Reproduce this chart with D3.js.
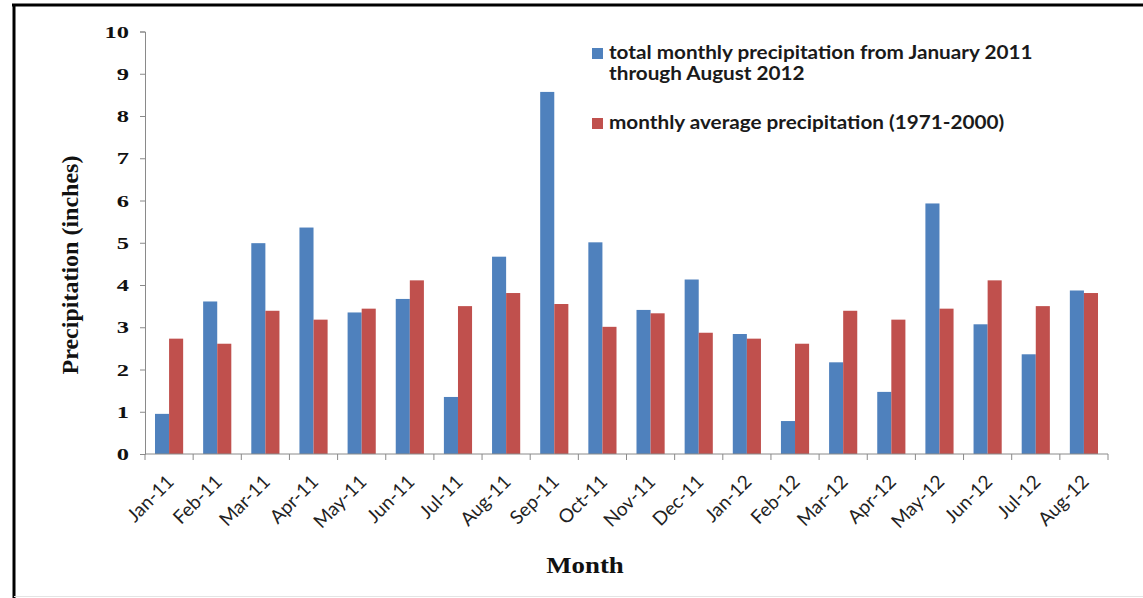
<!DOCTYPE html>
<html>
<head>
<meta charset="utf-8">
<script src="https://cdn.jsdelivr.net/npm/d3@7"></script>
<style>
  html, body { margin: 0; padding: 0; background: #fff; }
  svg { display: block; }
</style>
</head>
<body>
<svg id="chart" width="1143" height="598"></svg>
<script>
// Monthly precipitation, Jan 2011 – Aug 2012, against the 1971–2000 monthly normals
const months = ["Jan-11","Feb-11","Mar-11","Apr-11","May-11","Jun-11","Jul-11","Aug-11","Sep-11","Oct-11",
                "Nov-11","Dec-11","Jan-12","Feb-12","Mar-12","Apr-12","May-12","Jun-12","Jul-12","Aug-12"];
const totalPrecip = [0.95, 3.61, 4.99, 5.36, 3.35, 3.67, 1.35, 4.67, 8.57, 5.01,
                     3.41, 4.13, 2.84, 0.78, 2.17, 1.47, 5.93, 3.07, 2.36, 3.87];
const normalPrecip = [2.73, 2.61, 3.39, 3.18, 3.44, 4.11, 3.50, 3.81, 3.55, 3.01,
                      3.33, 2.87, 2.73, 2.61, 3.39, 3.18, 3.44, 4.11, 3.50, 3.81];
const yTicks = [0, 1, 2, 3, 4, 5, 6, 7, 8, 9, 10];
const seriesNames = ["total monthly precipitation from January 2011|through August 2012",
                     "monthly average precipitation (1971-2000)"];
const seriesColors = ["#4F81BD", "#C0504D"];

const svg = d3.select("#chart");
const W = 1143, H = 598;
const SERIF = "'Liberation Serif', 'Times New Roman', serif";
const SANS = "Lato, 'Open Sans', sans-serif";
const WIDEN = 1.12;      // horizontal stretch applied to text
const DIGIT_WIDEN = 1.4; // wider numerals on the value axis

// outer frame: heavy black rule on top and left, faint rule at the bottom
svg.append("rect").attr("x", 0).attr("y", 0).attr("width", W).attr("height", H).attr("fill", "#fff");
svg.append("line").attr("x1", 12).attr("x2", W).attr("y1", 5).attr("y2", 5)
   .attr("stroke", "#000").attr("stroke-width", 3);
svg.append("line").attr("x1", 14).attr("x2", 14).attr("y1", 4).attr("y2", H)
   .attr("stroke", "#000").attr("stroke-width", 3);
svg.append("line").attr("x1", 14).attr("x2", W).attr("y1", 596.5).attr("y2", 596.5)
   .attr("stroke", "#e4e4e4").attr("stroke-width", 1);

const plot = { left: 145, right: 1108, top: 31.5, bottom: 454 };

const x = d3.scaleBand().domain(months).range([plot.left, plot.right]).paddingInner(0).paddingOuter(0);
const xSub = d3.scaleBand().domain([0, 1]).range([0, x.bandwidth()]).paddingInner(0).paddingOuter(0.71);
const y = d3.scaleLinear().domain([0, 10]).range([plot.bottom, plot.top]);

const series = [totalPrecip, normalPrecip];

// bars
const groups = svg.append("g").selectAll("g")
  .data(months).join("g")
  .attr("transform", d => `translate(${x(d)},0)`);

groups.selectAll("rect")
  .data((m, i) => series.map((s, k) => ({ k, v: s[i] })))
  .join("rect")
  .attr("x", d => xSub(d.k))
  .attr("width", xSub.bandwidth())
  .attr("y", d => y(d.v))
  .attr("height", d => y(0) - y(d.v))
  .attr("fill", d => seriesColors[d.k]);

// y axis
const yAxis = svg.append("g")
  .attr("transform", `translate(${plot.left},0)`)
  .call(d3.axisLeft(y).tickValues(yTicks).tickSize(5).tickPadding(12).tickFormat(d3.format("d")));
yAxis.select(".domain").attr("stroke", "#8a8a8a");
yAxis.selectAll(".tick line").attr("stroke", "#8a8a8a");
yAxis.selectAll(".tick text")
  .attr("x", -16 / DIGIT_WIDEN)
  .attr("transform", `scale(${DIGIT_WIDEN},1)`)
  .attr("font-family", SERIF)
  .attr("font-weight", "bold").attr("font-size", 17.5).attr("fill", "#111");

// x axis: ticks on category boundaries
const xAxis = svg.append("g").attr("transform", `translate(0,${plot.bottom})`);
xAxis.append("line").attr("x1", plot.left).attr("x2", plot.right).attr("y1", 0).attr("y2", 0)
  .attr("stroke", "#8a8a8a");
xAxis.selectAll("line.tk")
  .data(months.map(m => x(m)).concat([plot.right]))
  .join("line").attr("class", "tk")
  .attr("x1", d => d).attr("x2", d => d).attr("y1", 0).attr("y2", 6)
  .attr("stroke", "#8a8a8a");
xAxis.selectAll("text")
  .data(months).join("text")
  .attr("transform", d => `translate(${x(d) + x.bandwidth() / 2 + 6},29) rotate(-45)`)
  .attr("text-anchor", "end")
  .attr("font-family", SANS)
  .attr("font-size", 19).attr("fill", "#222")
  .text(d => d);

// axis titles
svg.append("text")
  .attr("transform", `translate(78,265) rotate(-90)`)
  .attr("text-anchor", "middle")
  .attr("font-family", SERIF)
  .attr("font-weight", "bold").attr("font-size", 24).attr("fill", "#111")
  .text("Precipitation (inches)");
svg.append("text")
  .attr("transform", `translate(585,573) scale(${WIDEN},1)`)
  .attr("text-anchor", "middle")
  .attr("font-family", SERIF)
  .attr("font-weight", "bold").attr("font-size", 24).attr("fill", "#111")
  .text("Month");

// legend
const legend = svg.append("g");
const legendRows = [{ y: 48 }, { y: 118 }];
seriesNames.forEach((name, k) => {
  const row = legend.append("g").attr("transform", `translate(592,${legendRows[k].y})`);
  row.append("rect").attr("width", 11).attr("height", 11).attr("fill", seriesColors[k]);
  name.split("|").forEach((line, j) => {
    row.append("text")
      .attr("transform", `translate(17,${11 + j * 21}) scale(${WIDEN},1)`)
      .attr("font-family", SANS)
      .attr("font-weight", "bold").attr("font-size", 18.5).attr("fill", "#1a1a1a")
      .text(line);
  });
});
</script>
</body>
</html>
